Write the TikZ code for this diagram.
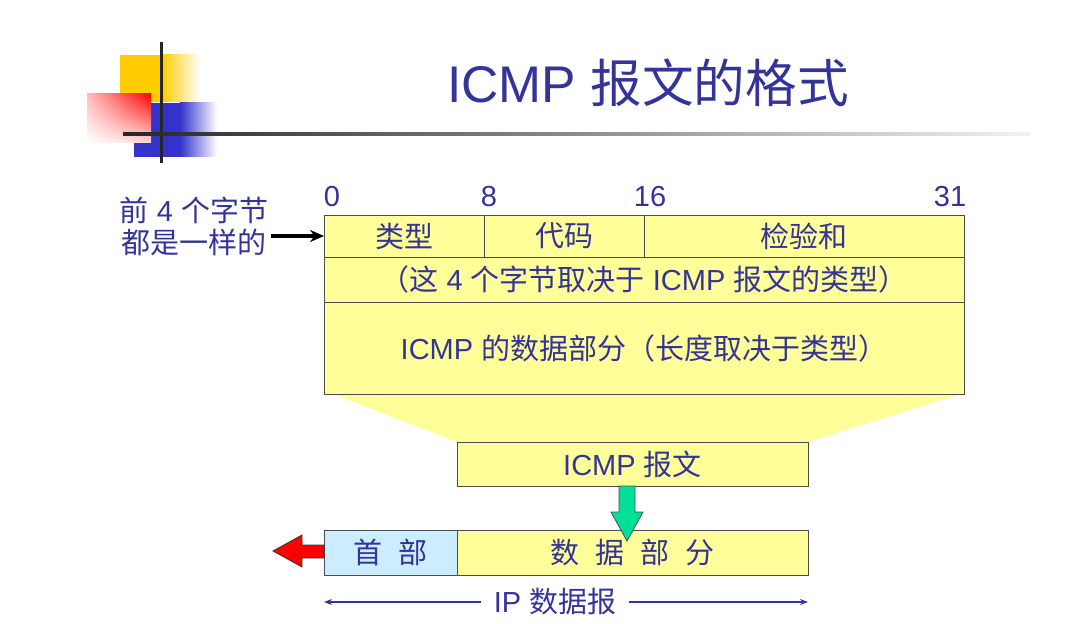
\documentclass[tikz,border=0pt]{standalone}
\usepackage{fontspec}
\setmainfont{Liberation Sans}
\newfontfamily\cjk{Noto Sans CJK SC}
\usetikzlibrary{arrows.meta,positioning,backgrounds,calc,shadings}
\definecolor{txtblue}{RGB}{51,51,153}
\definecolor{cellyellow}{RGB}{255,255,153}
\definecolor{hdrblue}{RGB}{204,236,255}
\definecolor{pushgreen}{RGB}{0,224,150}
\definecolor{decoyellow}{RGB}{255,204,0}
\definecolor{decoblue}{RGB}{51,51,204}
\newcommand\zh[1]{{\cjk #1}}
\newcommand\gap{\hspace{0.55em}}

\begin{document}
\begin{tikzpicture}[
  x=0.5pt, y=-0.5pt,
  font=\fontsize{14.5}{16}\selectfont,
  cell/.style={draw=black!70, fill=cellyellow, text=txtblue, inner sep=0pt, outer sep=0pt, minimum height=21pt},
  bitlab/.style={text=txtblue, inner sep=0pt},
  arr/.style={-{Stealth[length=7pt, width=6pt]}, line width=1.8pt},
  span/.style={{Stealth[length=4pt, width=3pt]}-{Stealth[length=4pt, width=3pt]}, txtblue, line width=0.9pt}
]
  \useasboundingbox (0,0) rectangle (1080,624);

  % title decoration
  \fill[decoyellow] (120,55) rectangle (162,102);
  \shade[left color=decoyellow, right color=white] (162,55) rectangle (200,102);
  \fill[decoblue] (134,103) rectangle (180,157);
  \shade[left color=decoblue, right color=white] (180,103) rectangle (217,157);
  \shade[upper right=red, upper left=red!25, lower left=white, lower right=red!15] (87,94) rectangle (151,143);
  \fill[black!85] (159.5,42) rectangle (162.5,163);
  \shade[left color=black!85, right color=black!5] (123,132.5) rectangle (1030,135.5);
  \node[text=txtblue, font=\fontsize{25.8}{30}\selectfont, anchor=base] (title) at (648,103) {ICMP \zh{报文的格式}};

  % ICMP message format
  \node[cell, minimum width=80pt] (type) at (404,236) {\zh{类型}};
  \node[cell, minimum width=80pt, right=0pt of type] (code) {\zh{代码}};
  \node[cell, minimum width=160pt, right=0pt of code] (cksum) {\zh{检验和}};
  \node[cell, anchor=north west, minimum width=320pt, minimum height=22.5pt] (rest) at (type.south west)
    {\zh{（这} 4 \zh{个字节取决于} ICMP \zh{报文的类型）}};
  \node[cell, anchor=north west, minimum width=320pt, minimum height=46pt] (data) at (rest.south west)
    {ICMP \zh{的数据部分（长度取决于类型）}};

  \node[bitlab] (b0) at (332,197) {0};
  \node[bitlab] (b8) at (489,197) {8};
  \node[bitlab] (b16) at (650,197) {16};
  \node[bitlab] (b31) at (950,197) {31};

  \node[text=txtblue, align=center, inner sep=1pt] (note) at (194,226) {\zh{前} 4 \zh{个字节}\\\zh{都是一样的}};
  \draw[arr] (note.east |- type.west) -- (type.west);

  \node[cell, minimum width=175.5pt, minimum height=22pt] (msg) at (632.5,464) {ICMP \zh{报文}};
  \begin{scope}[on background layer]
    \fill[cellyellow] ([xshift=4.5pt]data.south west) -- ([xshift=-2pt]data.south east)
      -- (msg.north east) -- (msg.north west) -- cycle;
  \end{scope}

  % IP datagram
  \node[cell, fill=hdrblue, minimum width=66.5pt, minimum height=22.5pt] (hdr) at (390.5,552.5) {\zh{首}\gap\zh{部}};
  \node[cell, minimum width=175.5pt, minimum height=22.5pt, right=0pt of hdr] (dpart)
    {\zh{数}\gap\zh{据}\gap\zh{部}\gap\zh{分}};

  \draw[black!70, fill=pushgreen] ($(msg.south)+(-13.5,0)$) -- ++(0,26) -- ++(-8,0) -- ($(msg.south)+(-5.5,55)$)
    -- ($(msg.south)+(10.5,26)$) -- ++(-8,0) -- ($(msg.south)+(2.5,0)$) -- cycle;
  \draw[black!80, fill=red] ($(hdr.west)+(0,-7.5)$) -- ++(-22,0) -- ++(0,-10) -- ($(hdr.west)+(-51,-1.5)$)
    -- ($(hdr.west)+(-22,14.5)$) -- ++(0,-9) -- ($(hdr.west)+(0,5.5)$) -- cycle;

  \coordinate (ipL) at ([yshift=-13.5pt]hdr.south west);
  \coordinate (ipR) at ([yshift=-13.5pt]dpart.south east);
  \draw[span] (ipL) -- (ipR);
  \node[fill=white, text=txtblue, inner xsep=6.5pt, inner ysep=1pt] (iplab) at (555,602) {IP \zh{数据报}};
\end{tikzpicture}
\end{document}
